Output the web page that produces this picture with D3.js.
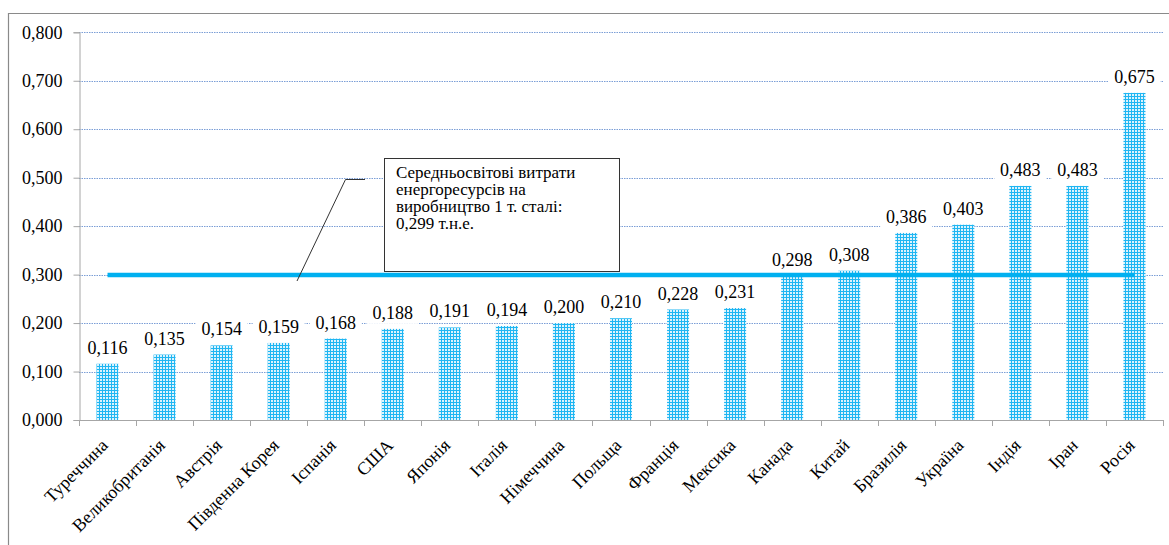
<!DOCTYPE html>
<html>
<head>
<meta charset="utf-8">
<script src="https://cdn.jsdelivr.net/npm/d3@7"></script>
<style>
  html, body { margin: 0; padding: 0; background: #fff; }
  svg { display: block; }
</style>
</head>
<body>
<svg id="chart" width="1169" height="545" font-family="Liberation Serif"></svg>
<script>
// Energy consumption per tonne of steel, by country (t.o.e.)
const countries = ["Туреччина", "Великобританія", "Австрія", "Південна Корея", "Іспанія", "США",
  "Японія", "Італія", "Німеччина", "Польща", "Франція", "Мексика", "Канада", "Китай",
  "Бразилія", "Україна", "Індія", "Іран", "Росія"];
const values = [0.116, 0.135, 0.154, 0.159, 0.168, 0.188, 0.191, 0.194, 0.200, 0.210,
  0.228, 0.231, 0.298, 0.308, 0.386, 0.403, 0.483, 0.483, 0.675];
const worldAverage = 0.299;
const yTicks = [0, 0.1, 0.2, 0.3, 0.4, 0.5, 0.6, 0.7, 0.8];
const noteLines = ["Середньосвітові витрати", "енергоресурсів на", "виробництво 1 т. сталі:", "0,299 т.н.е."];

const FONT = "Liberation Serif";
const fmt = v => d3.format(".3f")(v).replace(".", ",");

const svg = d3.select("#chart");
const plotLeft = 79, plotRight = 1163, plotTop = 32.3, plotBottom = 420;

const x = d3.scaleBand().domain(countries).range([plotLeft, plotRight]).paddingInner(0.614).paddingOuter(0.307);
const y = d3.scaleLinear().domain([0, 0.8]).range([plotBottom, plotTop]);

// outer chart frame
svg.append("path")
  .attr("d", `M8.5,560 V13.5 H1180`)
  .attr("fill", "none").attr("stroke", "#8a8a8a").attr("stroke-width", 1.2);

// hatch pattern for bars
const defs = svg.append("defs");
const pat = defs.append("pattern").attr("id", "grid").attr("patternUnits", "userSpaceOnUse")
  .attr("width", 3).attr("height", 3);
pat.append("rect").attr("width", 3).attr("height", 3).attr("fill", "#dcf3fd");
pat.append("rect").attr("x", 0).attr("y", 0).attr("width", 1).attr("height", 3).attr("fill", "#1fb6f2");
pat.append("rect").attr("x", 0).attr("y", 0).attr("width", 3).attr("height", 1).attr("fill", "#1fb6f2");

// horizontal gridlines
svg.append("g").selectAll("line").data(yTicks.filter(d => d > 0)).join("line")
  .attr("x1", plotLeft).attr("x2", plotRight)
  .attr("y1", d => Math.round(y(d)) + 0.5).attr("y2", d => Math.round(y(d)) + 0.5)
  .attr("stroke", "#7b9ed6").attr("stroke-width", 1).attr("stroke-dasharray", "1.5,1");

// y axis
const yAxis = d3.axisLeft(y).tickValues(yTicks).tickFormat(fmt).tickSize(6).tickPadding(11);
const gy = svg.append("g").attr("transform", `translate(${plotLeft + 0.5},0)`).call(yAxis)
  .attr("font-family", FONT).attr("font-size", 18);
gy.select(".domain").attr("stroke", "#a6a6a6");
gy.selectAll(".tick line").attr("stroke", "#a6a6a6");
gy.selectAll(".tick text").attr("font-family", FONT).attr("font-size", 18).attr("fill", "#000");

// x axis with ticks at category boundaries
const bounds = d3.range(countries.length + 1).map(i => plotLeft + i * (plotRight - plotLeft) / countries.length);
const gx = svg.append("g");
gx.append("line").attr("x1", plotLeft).attr("x2", plotRight).attr("y1", plotBottom + 0.5).attr("y2", plotBottom + 0.5)
  .attr("stroke", "#a6a6a6");
gx.selectAll("line.tk").data(bounds).join("line").attr("class", "tk")
  .attr("x1", d => Math.round(d) + 0.5).attr("x2", d => Math.round(d) + 0.5)
  .attr("y1", plotBottom).attr("y2", plotBottom + 6).attr("stroke", "#a6a6a6");

// category labels, rotated
gx.selectAll("text").data(countries).join("text")
  .attr("transform", d => `translate(${x(d) + x.bandwidth() / 2 - 3},${plotBottom + 22}) rotate(-45)`)
  .attr("text-anchor", "end").attr("dy", "0.35em")
  .attr("font-family", FONT).attr("font-size", 18)
  .text(d => d);

// bars
svg.append("g").selectAll("rect").data(countries).join("rect")
  .attr("x", d => x(d)).attr("width", x.bandwidth())
  .attr("y", (d, i) => y(values[i])).attr("height", (d, i) => y(0) - y(values[i]))
  .attr("fill", "url(#grid)");

// world average line
svg.append("line")
  .attr("x1", x(countries[0]) + x.bandwidth() / 2)
  .attr("x2", x(countries[countries.length - 1]) + x.bandwidth() / 2)
  .attr("y1", y(worldAverage)).attr("y2", y(worldAverage))
  .attr("stroke", "#00b0f0").attr("stroke-width", 4.5);

// value labels on white backgrounds
const lbl = svg.append("g").selectAll("g").data(countries).join("g")
  .attr("transform", (d, i) => `translate(${x(d) + x.bandwidth() / 2},${y(values[i]) - 10})`);
lbl.append("rect").attr("x", -26).attr("y", -17).attr("width", 52).attr("height", 22).attr("fill", "#fff");
lbl.append("text").attr("text-anchor", "middle")
  .attr("font-family", FONT).attr("font-size", 18)
  .text((d, i) => fmt(values[i]));

// callout with leader line
svg.append("path").attr("d", "M297,281 L345.5,179.5 H365")
  .attr("fill", "none").attr("stroke", "#333").attr("stroke-width", 1);
svg.append("rect").attr("x", 384.5).attr("y", 158.5).attr("width", 235).attr("height", 113)
  .attr("fill", "#fff").attr("stroke", "#333").attr("stroke-width", 1);
svg.append("g").selectAll("text").data(noteLines).join("text")
  .attr("x", 396).attr("y", (d, i) => 178 + i * 17)
  .attr("font-family", FONT).attr("font-size", 17)
  .text(d => d);
</script>
</body>
</html>
